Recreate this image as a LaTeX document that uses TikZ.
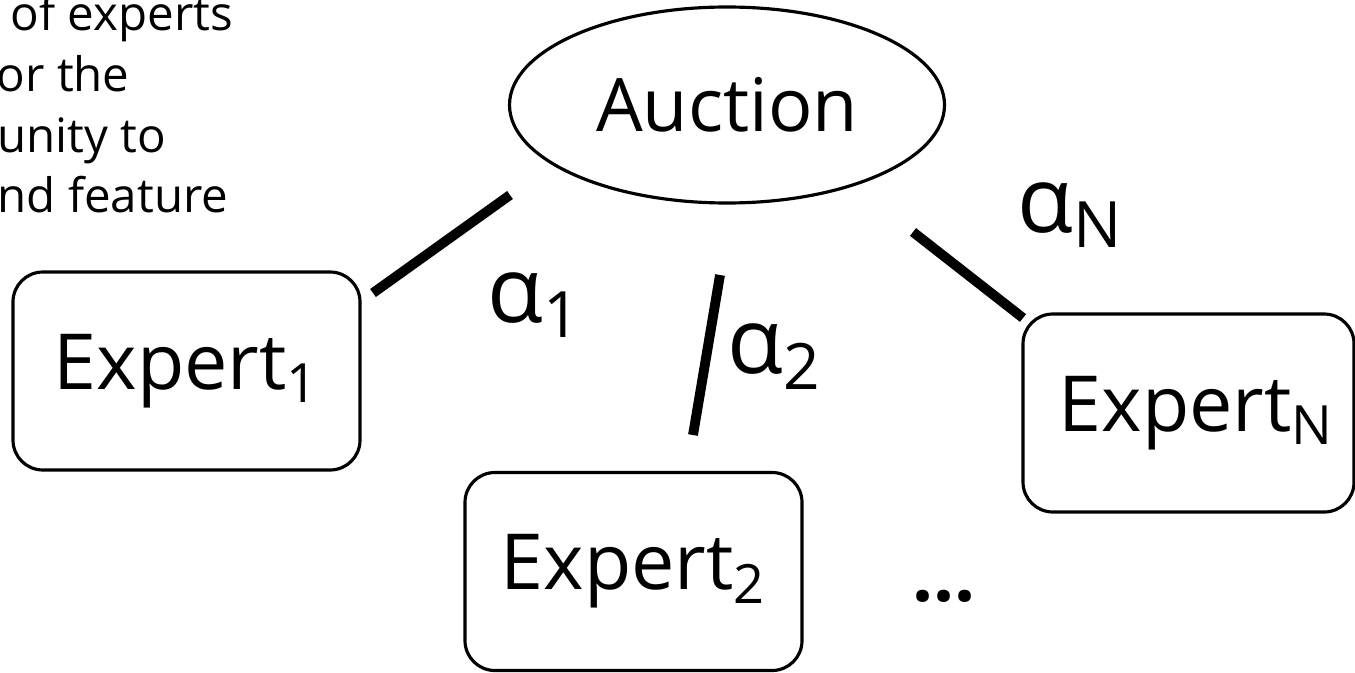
\documentclass[tikz,border=0pt]{standalone}
\usepackage{fontspec}
\setmainfont{Open Sans}
\usetikzlibrary{shapes.geometric}
\tikzset{
  auctionnode/.style={draw,ellipse,line width=0.9pt,minimum width=4.35cm,minimum height=1.96cm,inner sep=0pt,font=\fontsize{21}{25}\selectfont},
  expertnode/.style={draw,rounded corners=8.5pt,line width=0.9pt,minimum height=1.98cm,inner sep=0pt,font=\fontsize{22}{26}\selectfont},
  weightnode/.style={inner sep=0pt,anchor=base west,font=\fontsize{26}{28}\selectfont},
  notenode/.style={inner sep=0pt,anchor=base west,font=\fontsize{13.5}{17}\selectfont},
  mylink/.style={line width=2.8pt}
}

\begin{document}
\begin{tikzpicture}
    \useasboundingbox (0,0) rectangle (13.55,6.72);
    \node[notenode] (note1) at (0.10,6.42) {of experts};
    \node[notenode] (note2) at (-0.04,5.81) {or the};
    \node[notenode] (note3) at (-0.03,5.20) {unity to};
    \node[notenode] (note4) at (-0.03,4.60) {nd feature};
    \node[auctionnode] (auction) at (7.27,5.67) {Auction};
    \node[expertnode,minimum width=3.47cm] (expert1) at (1.865,3.01) {Expert\textsubscript{1}};
    \node[expertnode,minimum width=3.37cm] (expert2) at (6.335,1.005) {Expert\textsubscript{2}};
    \node[expertnode,minimum width=3.31cm] (expertN) at (11.885,2.59) {\hspace*{0.16cm}Expert\textsubscript{N}};
    \node[weightnode] (w1) at (4.87,3.50) {α\textsubscript{1}};
    \node[weightnode] (w2) at (7.27,2.99) {α\textsubscript{2}};
    \node[weightnode] (wN) at (10.17,4.40) {α\textsubscript{N}};
    \node[anchor=base west,inner sep=0pt,font=\fontsize{21}{24}\bfseries] (dots) at (9.12,0.71) {...};
    \coordinate (e1top) at (3.73,3.79);
    \coordinate (a1bot) at (5.10,4.77);
    \coordinate (a2bot) at (7.20,3.97);
    \coordinate (e2top) at (6.93,2.37);
    \coordinate (aNbot) at (9.13,4.40);
    \coordinate (eNtop) at (10.23,3.54);
    \draw[mylink] (e1top) -- (a1bot);
    \draw[mylink] (a2bot) -- (e2top);
    \draw[mylink] (aNbot) -- (eNtop);
\end{tikzpicture}
\end{document}
